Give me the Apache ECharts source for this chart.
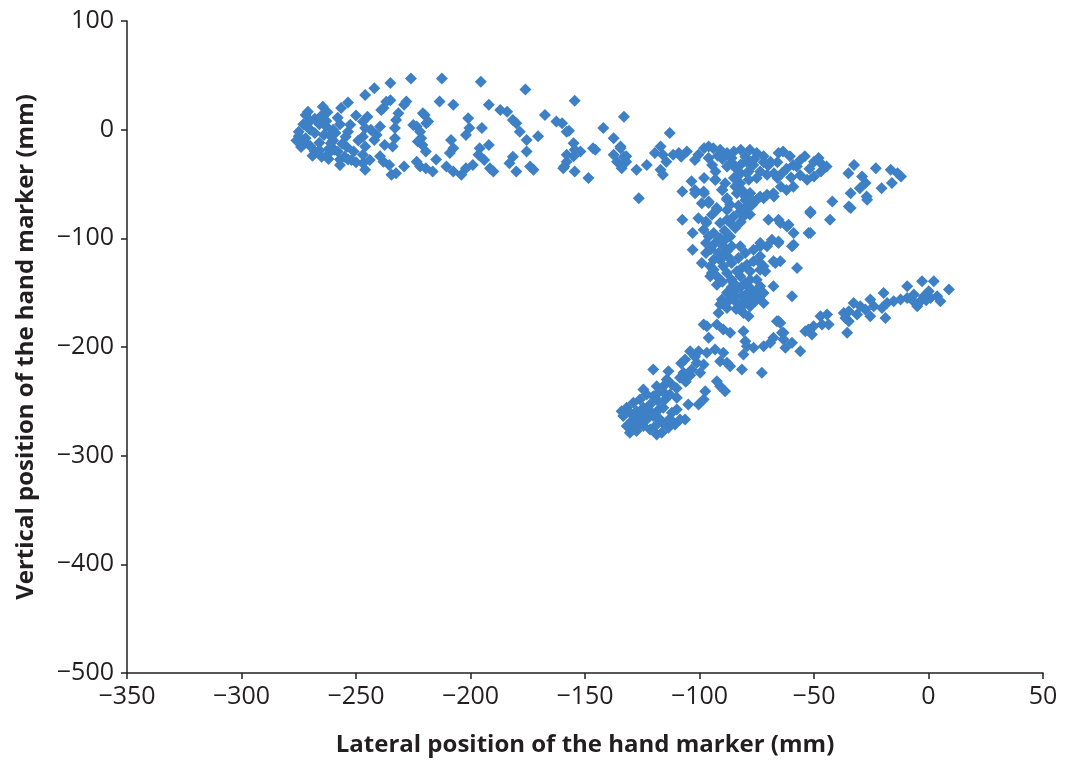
<!DOCTYPE html>
<html>
<head>
<meta charset="utf-8">
<script src="https://cdn.jsdelivr.net/npm/echarts@6/dist/echarts.min.js"></script>
<style>html,body{margin:0;padding:0;background:#fff}#chart{width:1072px;height:769px}</style>
</head>
<body>
<div id="chart"></div>
<script>
// Axis tick values
const xTicks = [-350, -300, -250, -200, -150, -100, -50, 0, 50];
const yTicks = [-500, -400, -300, -200, -100, 0, 100];

// Data points [lateral mm, vertical mm], grouped by region of the cloud
const leftCluster = [
[-226,47],[-212.5,47],[-195.5,44],[-176,37],[-235,43],[-242,38],[-246,32],[-253.5,25],[-256.5,20],[-264.5,21],[-262.5,16],[-272,13.5],
[-213.5,26],[-207.5,23],[-235,27],[-228,26],[-238,20],[-192,23],[-187,18],[-184,16.5],[-167.5,13.5],[-162.5,7.5],
[-174,-34],[-172.5,-37],[-181.5,-25],[-183,-31],[-180,-38.5],[-175.5,-20],[-175.5,-9.5],[-178.5,-2],[-181.5,9],[-180,6],[-170.5,-6],
[-195,1.5],[-201,10.5],[-200.5,1.5],[-202,-5],[-196,-17],[-192,-14],[-196.5,-23],[-194,-28],[-191.5,-35.5],[-190,-38.5],[-199,-32.5],[-202,-35.5],[-204,-41.5],
[-208.5,-9.5],[-207.5,-17],[-209,-21.5],[-215,-27.5],[-216.5,-38.5],[-210.5,-34],[-207.5,-38.5],[-219.5,-20],[-221,-14],[-221.5,-8],[-223.5,3],[-220,13.5],[-218.5,7.5],[-222,-2],[-223,-11],[-223.5,-29.5],[-222,-34],[-219.5,-35.5],
[-229,-34],[-232.5,-40],[-234,-15.5],[-233,-8],[-233,1.5],[-232.5,9],[-231.5,15],[-229,23],
[-239.5,3],[-241,-5],[-243.5,0],[-242,-9.5],[-246,-15.5],[-245,12],[-247,7.5],[-246,1.5],[-247,-6.5],[-237.5,-14],[-239.5,-24.5],[-238,-29.5],[-235.5,-32.5],[-234.5,-41.5],[-247,-23],[-247,-31],[-246,-37],
[-253.5,-27.5],[-251,-20],[-254.5,-6.5],[-253.5,-2],[-252.5,4.5],[-257,-27.5],[-259.5,-18.5],[-261,-12.5],[-261.5,-5],[-263,3],[-257,-32.5],
[-275,-2],[-273,5],[-272,-8],[-270,-15],[-268,-20],[-265,-25],[-262,-27],[-270,0],[-266,5],[-268,10],[-264,-5],[-260,-10],[-258,-20],[-255,-25],[-252,-28],[-272,-12],[-275,-6],[-266,-12],[-262,-18],[-259,-3],[-257,5],[-268,-3],[-271,2],[-263,8],[-260,0],[-276,-10],[-274,-16],[-269,-24],[-266,-19],[-256,-13],[-250,-30],[-244,-28],[-250,13],[-258,11],[-265,13],[-249,-10],[-254,-16],[-262,-22],[-270,8],
[-236.8,25.8],[-239,18.2],[-220.8,15.2],[-225,4.4],[-219.3,6],[-271,16.6]
];
const middleBand = [
[-154.5,26.5],[-133,12],[-160,6],[-158,-2],[-155,-12.5],[-142,1.5],[-137.5,-8],[-134.5,-17],[-132,-24.5],[-146.5,-17],[-158,-23],[-154.5,-18.5],[-159,-34],[-148.5,-44.5],
[-157,-1],[-134.5,-15.5],[-137.5,-23],[-133,-25],[-132,-29.5],[-136,-29.5],[-134,-35.5],[-145.5,-18.5],[-152,-20],[-155,-24.5],[-158,-29.5],[-159.5,-35.5],[-154.5,-38.5],[-126.5,-63],[-127.5,-37],[-123,-32.5]
];
const rightBand = [
[-113,-3],[-117,-15.5],[-119.5,-21.5],[-116,-23],[-114.5,-29.5],[-117,-37],[-116,-41.5],[-111.5,-23],[-109,-21.5],[-105.5,-20],[-100.5,-23],[-98,-17],[-96,-15.5],[-94,-17],[-91,-18.5],[-88,-21.5],[-85,-20],[-82,-18.5],[-78,-18.5],[-75,-21.5],[-72,-24.5],[-69,-29.5],[-65.5,-21.5],[-63.5,-20],[-60.5,-24.5],[-59,-32.5],[-54,-24.5],[-50,-29.5],[-47,-31],[-44.5,-34],[-47,-38.5],[-50,-43],[-53,-46],[-59,-52.5],[-62,-55.5],[-64.5,-52.5],[-66,-44.5],[-67.5,-40],[-73.5,-38.5],[-76.5,-32.5],[-79.5,-29.5],[-82,-40],[-85,-44.5],[-83.5,-52.5],[-81.5,-55.5],[-80,-61.5],[-78,-58.5],[-75,-64.5],[-72,-63],[-67.5,-61.5],[-77,-69],[-79.5,-73.5],[-78.5,-46],[-75,-44.5],[-93,-46],[-94.5,-32.5],[-93,-38.5],[-98,-44.5],[-103.5,-47.5],[-102,-55.5],[-107.5,-57],[-98,-58.5],[-96,-67.5],[-90,-55.5],[-88,-63],[-92.5,-72],[-100.5,-81.5],[-107.5,-83],[-97,-86],[-103,-95],
[-51.5,-76.5],[-43,-83],[-42,-66],[-34,-72],[-34,-58.5],[-35,-40],[-32.5,-32.5],[-29,-43],[-27.5,-49],[-30,-54],[-27,-61.5],[-23,-35.5],[-20.5,-54],[-16.5,-37],[-13.5,-40],[-12,-43],[-16,-49],[-70.5,-41.5],[-57.5,-34],
[-108,-25],[-102,-28],[-96,-26],[-90,-27],[-86,-30],[-80,-25],[-76,-27],[-70,-33],[-66,-30],[-62,-36],[-56,-28],[-52,-36],[-48,-26],[-56,-42],[-60,-44],[-64,-40],[-72,-30],[-86,-26],[-82,-32],[-84,-36],[-88,-34],[-92,-24]
];
const verticalStem = [
[-101.9,-58.4],[-98.2,-56.9],[-90.2,-55.3],[-93.2,-46.1],[-83.7,-43.1],[-78.6,-38.5],[-84.4,-52.3],[-96,-66.1],[-88,-64.5],[-86.6,-69.1],[-92.4,-73.7],[-94.6,-78.3],[-97.2,-84.4],[-98.2,-92.1],[-96,-98.2],[-91,-85.9],[-88,-82.9],[-85.1,-79.9],[-82.2,-75.3],[-79.3,-70.7],[-76.4,-66.1],[-73.5,-61.5],[-70.5,-59.9],[-67.7,-58.4],[-77.9,-58.4],[-80.8,-79.9],[-84.4,-90.5],[-86.6,-98.2],[-88.8,-101.3],[-89.6,-107.4],[-93.2,-104.3],[-93.8,-95.1],[-91.7,-113.5],[-93.8,-119.7],[-90.2,-116.6],[-95.3,-125.8],[-94.6,-131.9],[-92.4,-135],[-88,-131.9],[-89.6,-125.8],[-86,-122.7],[-83,-118.1],[-80,-113.5],[-76.4,-110.5],[-82.2,-107.4],[-85.9,-107.4],[-85.1,-141.1],[-83.7,-147.2],[-81.5,-153.4],[-80,-159.5],[-77.9,-162.6],[-75.7,-158],[-73.5,-153.4],[-75,-148.8],[-77.9,-145.7],[-80,-141.1],[-82.2,-135],[-77.9,-138],[-73.5,-144.2],[-72,-159.5],[-80.8,-168.7],[-78.6,-171.8],[-82.2,-162.6],[-84.4,-158],[-90.2,-159.5],[-91.7,-168.7],[-83.7,-130.4],[-81.5,-127.3],[-79.3,-124.3],[-76.4,-121.2],[-73.5,-122.7],[-72,-125.8],[-73.5,-128.9],[-77.9,-130.4],[-73.5,-107.4],[-68.4,-101.3],[-65.5,-104.3],[-73.5,-104.3],[-66.9,-122.7],[-64.7,-121.2],[-67.7,-144.2],[-59.6,-153.4],[-57.4,-127.3],[-61.8,-89.1],[-65.5,-82.9],[-69.9,-82.9],[-58.9,-105.9],[-52.4,-95.1],[-51.6,-75.3],[-66.2,-176.4],[-98.2,-179.4],[-92.4,-179.4],[-79.3,-40],[-82.2,-49.2],[-83.7,-58.4],[-88.8,-49.2],[-99,-67.6],
[-103,-110.5],[-99,-122.7],[-97.2,-113.5],[-97.2,-104.3],[-93.8,-128.9],[-95.3,-135],[-92.4,-142.6],[-90.2,-156.4],[-91,-161],[-88,-164.1],[-85.1,-153.4],[-82.2,-165.6],[-75,-156.4],[-72,-150.3],[-67.7,-121.2],[-73.5,-116.6],[-71.3,-130.4],[-75,-138],[-70.5,-107.4],[-65.5,-102.8],[-59.6,-107.4],[-58.9,-95.1],[-64.7,-85.9],[-61.1,-87.5],[-51.6,-95.1],[-51.6,-76.7],[-34.8,-70.7],[-26.8,-64.5],
[-86,-145],[-88,-150],[-84,-165],[-79,-150],[-86,-138],[-90,-140],[-88,-112],[-91,-120],[-87,-118],[-95,-110],[-91,-100],[-89,-93],[-86,-87],[-82,-85],[-78,-78],[-83,-70],[-88,-74],[-80,-65],[-76,-150],[-78,-155],[-82,-145],[-87,-157]
];
const lowerBranch = [
[-96.8,-181],[-96,-191.6],[-89.6,-184],[-86.6,-187],[-80.8,-185.6],[-80,-194.8],[-79.3,-199.4],[-76.4,-200.8],[-72,-199.4],[-69.1,-196.2],[-64,-187],[-63.3,-193.2],[-62.5,-200.8],[-65.5,-176.4],[-80.8,-207],[-81.5,-220.8],[-72.8,-223.8],[-88,-214.6],[-91,-213.1],[-86.6,-217.7],[-89.6,-205.4],[-93.2,-202.3],[-96.8,-205.4],[-100.4,-203.9],[-104.1,-203.9],[-106.3,-211.6],[-101.2,-214.6],[-98.2,-216.2],[-99.7,-223.8],[-103.4,-220.8],[-107,-223.8],[-108.5,-228.4],[-113.6,-222.3],[-114.3,-229.9],[-112.1,-234.5],[-115.8,-236.1],[-118.7,-236.1],[-118,-242.2],[-120.2,-245.3],[-123.1,-243.7],[-124.5,-239.1],[-126,-248.4],[-128.9,-251.4],[-131.8,-256],[-134,-259.1],[-130.4,-260.6],[-127.5,-259.1],[-124.5,-256],[-121.6,-253],[-118,-249.9],[-115,-248.4],[-112.9,-243.7],[-109.9,-246.8],[-109.9,-257.5],[-112.1,-260.6],[-108.5,-266.7],[-110.7,-271.3],[-113.6,-274.4],[-116.5,-279],[-118.7,-280.5],[-121.6,-275.9],[-124.5,-272.8],[-127.5,-277.4],[-130.4,-279],[-131.8,-272.8],[-129.6,-268.2],[-126.7,-266.7],[-123.1,-266.7],[-120.2,-263.6],[-117.2,-266.7],[-115.8,-256],[-104.9,-253],[-100.4,-253],[-98.2,-248.4],[-97.5,-240.7],[-91,-236.1],[-88.8,-240.7],[-92.4,-231.5],[-106.3,-266.7],[-133.3,-263.6],[-120.2,-220.8],
[-128,-264],[-125,-262],[-122,-258],[-118,-258],[-126,-270],[-129,-274],[-116,-270],[-113,-266],[-119,-272],[-110,-238],[-106,-232],[-104,-226],[-102,-209],[-108,-215],[-115,-243]
];
const rightBranch = [
[8.9,-147.2],[2.3,-139.6],[-2.8,-139.6],[0.1,-148.8],[3.8,-153.4],[5.2,-158],[0.9,-154.9],[-2,-153.4],[-3.5,-158],[-6.4,-151.8],[-9.3,-154.9],[-9.3,-144.2],[-12.2,-156.4],[-4.9,-162.6],[-15.2,-158],[-18.1,-159.5],[-19.6,-150.3],[-20.3,-164.1],[-23.9,-162.6],[-25.4,-156.4],[-27.6,-165.6],[-29.8,-162.6],[-32.7,-159.5],[-31.2,-170.2],[-34.8,-167.2],[-37,-168.7],[-36.3,-173.3],[-34.8,-176.4],[-25.4,-171.8],[-18.8,-173.3],[-35.5,-187],[-44.3,-170.2],[-47.2,-171.8],[-43.6,-179.4],[-46.5,-179.4],[-50.2,-181],[-52.4,-184],[-50.9,-188.6],[-53.8,-185.6],[-59.6,-196.2],[-64.7,-177.8],[-67.7,-191.6],[-63.3,-187],[-56,-204],[-1,-157],[-7,-157]
];

const allPoints = [].concat(leftCluster, middleBand, rightBand, verticalStem, lowerBranch, rightBranch);

const FONT = 'Open Sans';
const minus = v => String(v).replace('-', '\u2212');

const chart = echarts.init(document.getElementById('chart'), null, {renderer: 'canvas'});
chart.setOption({
  animation: false,
  backgroundColor: '#ffffff',
  grid: {left: 127, right: 29, top: 21, bottom: 96, containLabel: false},
  xAxis: {
    type: 'value', min: xTicks[0], max: xTicks[xTicks.length - 1], interval: 50,
    name: 'Lateral position of the hand marker (mm)', nameLocation: 'middle', nameGap: 60,
    nameTextStyle: {fontFamily: FONT, fontWeight: 'bold', fontSize: 24, color: '#231f20'},
    axisLine: {show: true, onZero: false, lineStyle: {color: '#231f20', width: 1.5}},
    axisTick: {show: true, inside: false, length: 6, lineStyle: {color: '#231f20', width: 1.5}},
    axisLabel: {fontFamily: FONT, fontSize: 25, color: '#231f20', margin: 11, formatter: minus},
    splitLine: {show: false}
  },
  yAxis: {
    type: 'value', min: yTicks[0], max: yTicks[yTicks.length - 1], interval: 100,
    name: 'Vertical position of the hand marker (mm)', nameLocation: 'middle', nameGap: 89,
    nameTextStyle: {fontFamily: FONT, fontWeight: 'bold', fontSize: 24, color: '#231f20'},
    axisLine: {show: true, onZero: false, lineStyle: {color: '#231f20', width: 1.5}},
    axisTick: {show: true, inside: false, length: 6, lineStyle: {color: '#231f20', width: 1.5}},
    axisLabel: {fontFamily: FONT, fontSize: 25, color: '#231f20', margin: 13, formatter: minus},
    splitLine: {show: false}
  },
  series: [{
    type: 'scatter',
    data: allPoints,
    symbol: 'diamond',
    symbolSize: 12,
    itemStyle: {color: '#3d80c6', opacity: 1}
  }]
});
</script>
</body>
</html>
